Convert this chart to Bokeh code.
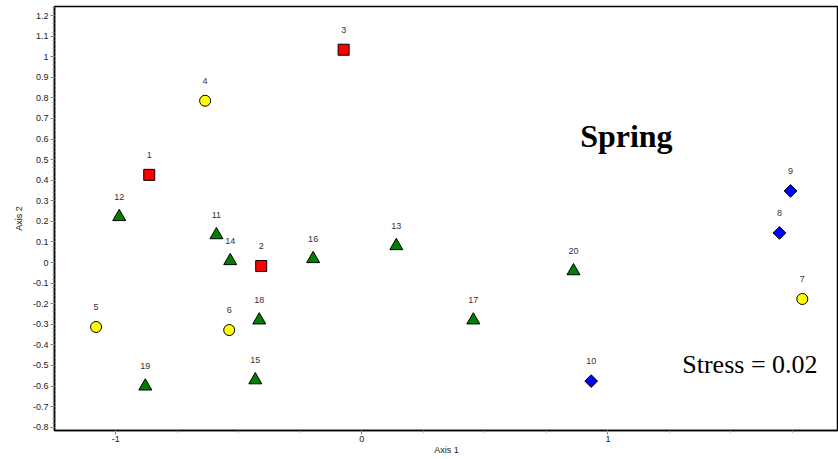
import math
from bokeh.plotting import figure
from bokeh.models import FixedTicker, CustomJSTickFormatter, ColumnDataSource, Label, Range1d
from bokeh.core.properties import value
from bokeh.embed import file_html
from bokeh.resources import INLINE

# Data
ids = [str(i) for i in range(1, 21)]
axis1 = [-0.864, -0.409, -0.074, -0.637, -1.080, -0.539, 1.790, 1.697, 1.742, 0.932,
         -0.591, -0.986, 0.140, -0.535, -0.433, -0.198, 0.453, -0.417, -0.880, 0.860]
axis2 = [0.426, -0.017, 1.034, 0.786, -0.313, -0.328, -0.177, 0.144, 0.348, -0.576,
         0.134, 0.222, 0.081, 0.008, -0.571, 0.018, -0.280, -0.280, -0.601, -0.041]
groups = ["sq", "sq", "sq", "ci", "ci", "ci", "ci", "di", "di", "di",
          "tr", "tr", "tr", "tr", "tr", "tr", "tr", "tr", "tr", "tr"]
x_ticks = [-1, 0, 1]
y_ticks = [round(-0.8 + 0.1 * i, 1) for i in range(21)]

style = {
    "sq": ("square", "#FF0000", 11, 0.0),
    "ci": ("circle", "#FFFF00", 11, 0.0),
    "di": ("square", "#0000FF", 9, math.pi / 4),
    "tr": ("triangle", "#008000", 13, 0.0),
}

p = figure(width=838, height=459, output_backend="svg", toolbar_location=None,
           x_range=Range1d(-1.249, 1.937), y_range=Range1d(-0.816, 1.244),
           min_border_left=54, min_border_right=0, min_border_top=6, min_border_bottom=29)
p.grid.visible = False
p.outline_line_color = "black"
p.outline_line_width = 1.5
p.background_fill_color = "white"
p.border_fill_color = "white"

for g, (marker, color, size, ang) in style.items():
    idx = [i for i, gg in enumerate(groups) if gg == g]
    src = ColumnDataSource(dict(x=[axis1[i] for i in idx], y=[axis2[i] for i in idx]))
    p.scatter("x", "y", source=src, marker=marker, size=size, angle=ang, fill_color=color,
              line_color="black", line_width=1)

lsrc = ColumnDataSource(dict(x=axis1, y=axis2, t=ids))
p.text("x", "y", text="t", source=lsrc, text_align="center", text_baseline="bottom",
       y_offset=-17, text_font=value("Liberation Sans"), text_font_size="9px",
       text_color="#333333")

fmt = CustomJSTickFormatter(code="return Number(tick.toFixed(1)).toString();")

p.xaxis.ticker = FixedTicker(ticks=x_ticks, minor_ticks=[-1.25 + 0.25 * i for i in range(13)])
p.yaxis.ticker = FixedTicker(ticks=y_ticks, minor_ticks=[round(-0.82 + 0.02 * i, 2) for i in range(104)])
p.xaxis.formatter = fmt
p.yaxis.formatter = fmt
for ax in (p.xaxis, p.yaxis):
    ax.major_label_text_font = "Liberation Sans"
    ax.major_label_text_font_size = "9px"
    ax.major_label_text_color = "#222222"
    ax.axis_label_text_font = "Liberation Sans"
    ax.axis_label_text_font_size = "9px"
    ax.axis_label_text_font_style = "normal"
    ax.axis_label_text_color = "#222222"
    ax.axis_line_color = "black"
    ax.axis_line_width = 1.5
    ax.major_tick_line_color = "#888888"
    ax.minor_tick_line_color = "#888888"
    ax.major_tick_out = 4
    ax.major_tick_in = 0
    ax.minor_tick_out = 2
    ax.minor_tick_in = 0
    ax.major_label_standoff = 2
    ax.axis_label_standoff = 6
p.xaxis.major_label_standoff = 1
p.xaxis.axis_label_standoff = 0
p.xaxis.axis_label = "Axis 1"
p.yaxis.axis_label = "Axis 2"

p.add_layout(Label(x=1.075, y=0.616, text="Spring", text_align="center", text_baseline="middle",
                   text_font="Liberation Serif", text_font_size="32px", text_font_style="bold",
                   text_color="black"))
p.add_layout(Label(x=1.577, y=-0.493, text="Stress = 0.02", text_align="center", text_baseline="middle",
                   text_font="Liberation Serif", text_font_size="26px", text_color="black"))

open("out.html", "w").write(file_html(p, INLINE))
